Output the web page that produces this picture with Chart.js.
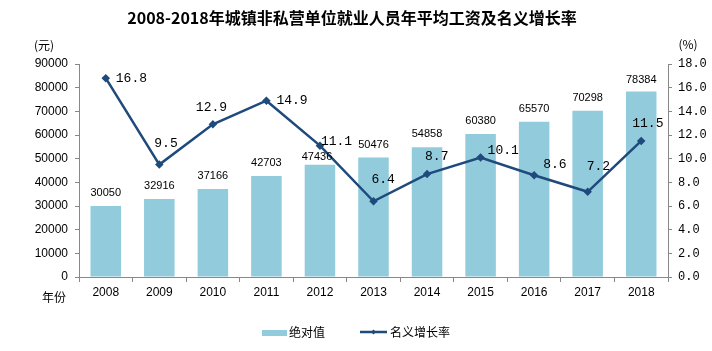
<!DOCTYPE html>
<html>
<head>
<meta charset="utf-8">
<script src="https://cdn.jsdelivr.net/npm/chart.js@4/dist/chart.umd.min.js"></script>
<style>
  html, body { margin: 0; padding: 0; background: #fff; }
  #wrap { width: 712px; height: 351px; position: relative; }
</style>
</head>
<body>
<div id="wrap"><canvas id="c"></canvas></div>
<script>
// data
var years = ['2008', '2009', '2010', '2011', '2012', '2013', '2014', '2015', '2016', '2017', '2018'];
var wages = [30050, 32916, 37166, 42703, 47436, 50476, 54858, 60380, 65570, 70298, 78384];
var growth = [16.8, 9.5, 12.9, 14.9, 11.1, 6.4, 8.7, 10.1, 8.6, 7.2, 11.5];

var barColor = '#92CBDC';
var lineColor = '#1F4A7C';

// where each growth label sits relative to its point (dx, dy)
var labelOffsets = [[10, 0], [-5, -21], [-17, -17], [10, 0], [1, -4], [-2, -22],
                    [-2, -17], [7, -7], [9, -11], [-1, -25], [-9, -17]];
// how far above the bar top each wage label sits
var barLabelGap = [13, 13, 13, 13, 8, 13, 13, 13, 13, 13, 12];

var extras = {
  id: 'extras',
  afterDatasetsDraw: function(chart) {
    var ctx = chart.ctx;
    ctx.save();

    // bar values (dataset 1 is the bars)
    var bars = chart.getDatasetMeta(1).data;
    ctx.font = '11px "Liberation Sans", Arial, sans-serif';
    ctx.fillStyle = '#000';
    ctx.textAlign = 'center';
    ctx.textBaseline = 'middle';
    bars.forEach(function(b, i) {
      ctx.fillText(String(wages[i]), b.x - (i == 4 ? 3 : 0), b.y - barLabelGap[i]);
    });

    // growth values
    var pts = chart.getDatasetMeta(0).data;
    ctx.font = '13px "Liberation Mono", "DejaVu Sans Mono", monospace';
    ctx.textAlign = 'left';
    pts.forEach(function(p, i) {
      var o = labelOffsets[i];
      ctx.fillText(growth[i].toFixed(1), p.x + o[0], p.y + o[1]);
    });

    // title and unit labels
    ctx.textAlign = 'center';
    ctx.font = 'bold 16px "Noto Sans CJK SC", sans-serif';
    ctx.fillText('2008-2018年城镇非私营单位就业人员年平均工资及名义增长率', 352, 18);
    ctx.font = '12px "Noto Sans CJK SC", sans-serif';
    ctx.fillText('(元)', 44, 45);
    ctx.fillText('(%)', 688, 44);
    ctx.fillText('年份', 54, 297);

    // legend
    ctx.fillStyle = barColor;
    ctx.fillRect(262, 330, 25, 6);
    ctx.strokeStyle = lineColor;
    ctx.lineWidth = 2.5;
    ctx.beginPath();
    ctx.moveTo(360, 332);
    ctx.lineTo(387, 332);
    ctx.stroke();
    ctx.fillStyle = lineColor;
    ctx.beginPath();
    ctx.moveTo(373.5, 329.5);
    ctx.lineTo(376, 332);
    ctx.lineTo(373.5, 334.5);
    ctx.lineTo(371, 332);
    ctx.closePath();
    ctx.fill();
    ctx.fillStyle = '#000';
    ctx.textAlign = 'left';
    ctx.fillText('绝对值', 289, 332);
    ctx.fillText('名义增长率', 390, 332);

    ctx.restore();
  }
};

new Chart(document.getElementById('c'), {
  data: {
    labels: years,
    datasets: [
      {
        type: 'line',
        label: '名义增长率',
        data: growth,
        yAxisID: 'yr',
        borderColor: lineColor,
        backgroundColor: lineColor,
        borderWidth: 2.5,
        pointStyle: 'rectRot',
        pointRadius: 2.5,
        tension: 0,
        order: 0
      },
      {
        type: 'bar',
        label: '绝对值',
        data: wages,
        yAxisID: 'y',
        backgroundColor: barColor,
        categoryPercentage: 1,
        barPercentage: 0.57,
        order: 1
      }
    ]
  },
  options: {
    responsive: true,
    maintainAspectRatio: false,
    animation: false,
    layout: { padding: { top: 64, bottom: 0, left: 0, right: 0 } },
    plugins: { legend: { display: false }, title: { display: false }, tooltip: { enabled: false } },
    scales: {
      x: {
        grid: { display: true, drawOnChartArea: false, offset: true, tickLength: 5, color: '#888' },
        border: { color: '#888' },
        ticks: { color: '#000', padding: 3, font: { size: 12, family: '"Liberation Sans", Arial, sans-serif' } },
        afterFit: function(s) { s.height = 74; }
      },
      y: {
        position: 'left',
        min: 0, max: 90000,
        grid: { drawOnChartArea: false, tickLength: 4, color: '#888' },
        border: { color: '#888' },
        ticks: {
          stepSize: 10000, color: '#000', padding: 7,
          font: { size: 12, family: '"Liberation Sans", Arial, sans-serif' },
          callback: function(v) { return String(v); }
        },
        afterFit: function(s) { s.width = 79; }
      },
      yr: {
        position: 'right',
        min: 0, max: 18,
        grid: { drawOnChartArea: false, tickLength: 4, color: '#888' },
        border: { color: '#888' },
        ticks: {
          stepSize: 2, color: '#000', padding: 6,
          font: { size: 12, family: '"Liberation Mono", "DejaVu Sans Mono", monospace' },
          callback: function(v) { return Number(v).toFixed(1); }
        },
        afterFit: function(s) { s.width = 44; }
      }
    }
  },
  plugins: [extras]
});
</script>
</body>
</html>
